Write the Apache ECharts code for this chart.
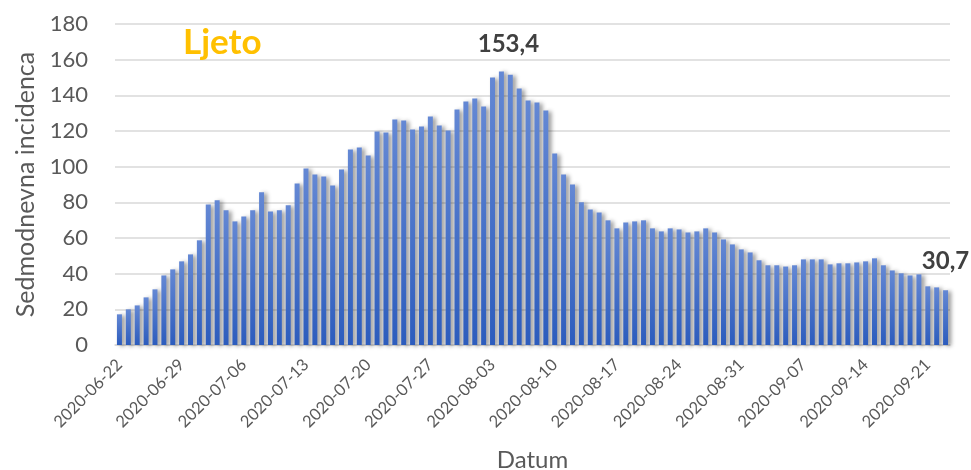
<!DOCTYPE html>
<html>
<head>
<meta charset="utf-8">
<script src="https://cdn.jsdelivr.net/npm/echarts@6/dist/echarts.min.js"></script>
<style>
  html, body { margin: 0; padding: 0; background: #fff; }
  #chart { width: 971px; height: 470px; }
</style>
</head>
<body>
<div id="chart"></div>
<script>
// datumi od 2020-06-22 do 2020-09-23
const startDate = '2020-06-22';
const dayCount = 94;

// sedmodnevna incidencija (procijenjeno s grafa)
const incidence = [
  17.2, 20.0, 22.2, 26.7, 31.2, 39.0, 42.4, 46.9, 50.8, 58.7,
  78.8, 81.1, 75.5, 69.3, 72.1, 75.5, 85.6, 74.9, 75.5, 78.3,
  90.6, 99.0, 95.6, 94.5, 89.5, 98.4, 109.6, 110.8, 106.3, 119.7,
  119.2, 126.4, 125.9, 120.8, 122.5, 128.1, 123.1, 120.3, 132.1, 136.5,
  138.2, 133.7, 150.0, 153.4, 151.6, 143.8, 137.1, 136.0, 131.5, 107.4,
  95.6, 90.0, 80.0, 76.0, 74.3, 69.9, 65.4, 68.7, 69.3, 69.9,
  65.4, 63.7, 65.4, 64.8, 63.1, 63.7, 65.4, 63.1, 59.2, 56.4,
  53.6, 51.9, 47.5, 44.7, 44.7, 44.0, 44.7, 48.0, 48.0, 48.0,
  45.2, 45.8, 45.8, 46.3, 46.9, 48.6, 44.7, 41.8, 40.2, 39.0,
  39.6, 32.9, 32.3, 30.7
];

// oznaceni stupci (vrh i zadnji dan)
const labeledIdx = [43, 93];

const yTicks = [0, 20, 40, 60, 80, 100, 120, 140, 160, 180];

function buildDates() {
  const out = [];
  const d = new Date(startDate + 'T00:00:00Z');
  for (let i = 0; i < dayCount; i++) {
    out.push(d.toISOString().slice(0, 10));
    d.setUTCDate(d.getUTCDate() + 1);
  }
  return out;
}
const dates = buildDates();

const chart = echarts.init(document.getElementById('chart'));
const fontFamily = 'Lato, "Open Sans", sans-serif';

const barData = incidence.map((v, i) => {
  if (labeledIdx.indexOf(i) === -1) return v;
  const last = i === dayCount - 1;
  return {
    value: v,
    label: {
      show: true,
      position: 'top',
      distance: last ? 17 : 15,
      offset: last ? [0, 0] : [7, 0],
      fontFamily: fontFamily,
      fontWeight: 'bold',
      fontSize: 24,
      color: '#404040',
      formatter: p => String(p.value).replace('.', ',')
    }
  };
});

chart.setOption({
  animation: false,
  textStyle: { fontFamily: fontFamily },
  title: {
    text: 'Ljeto',
    left: 178,
    top: 20,
    textStyle: { color: '#FFC000', fontSize: 35, fontWeight: 'bold', fontFamily: fontFamily }
  },
  grid: { left: 115, right: 21, top: 24, bottom: 125, containLabel: false, outerBoundsMode: 'none' },
  xAxis: {
    type: 'category',
    data: dates,
    name: 'Datum',
    nameLocation: 'middle',
    nameGap: 103,
    nameTextStyle: { fontSize: 24, color: '#595959', fontFamily: fontFamily },
    axisLine: { lineStyle: { color: '#d9d9d9', width: 1.5 } },
    axisTick: { interval: 6, length: 5, lineStyle: { color: '#d9d9d9', width: 1.5 } },
    axisLabel: {
      interval: 6,
      rotate: 45,
      fontSize: 16.5,
      color: '#595959',
      margin: 17
    }
  },
  yAxis: {
    type: 'value',
    min: yTicks[0],
    max: yTicks[yTicks.length - 1],
    interval: 20,
    name: 'Sedmodnevna incidenca',
    nameLocation: 'middle',
    nameGap: 74,
    nameTextStyle: { fontSize: 25, color: '#595959', fontFamily: fontFamily },
    axisLabel: { fontSize: 22, color: '#595959', margin: 27 },
    splitLine: { lineStyle: { color: '#d9d9d9', width: 1.5 } }
  },
  series: [{
    type: 'bar',
    data: barData,
    barWidth: 5,
    itemStyle: {
      color: new echarts.graphic.LinearGradient(0, 0, 0, 1, [
        { offset: 0, color: '#6488d4' },
        { offset: 1, color: '#2c5cbd' }
      ]),
      shadowColor: 'rgba(0, 0, 0, 0.42)',
      shadowBlur: 4,
      shadowOffsetX: 3,
      shadowOffsetY: 1
    }
  }]
});
</script>
</body>
</html>
